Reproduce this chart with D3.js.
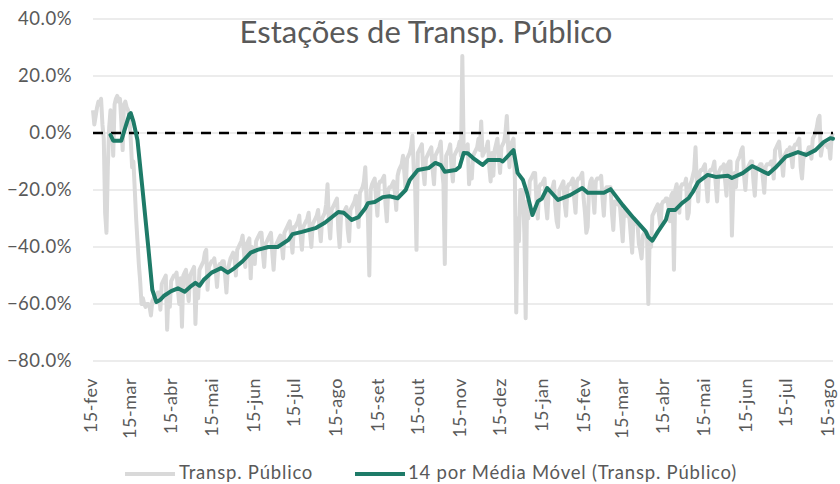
<!DOCTYPE html>
<html><head><meta charset="utf-8">
<script src="https://cdn.jsdelivr.net/npm/d3@7"></script>
<style>body{margin:0;background:#fff}svg{display:block}</style>
</head><body>
<svg id="chart" width="840" height="484"></svg>
<script>
// ---------- DATA ----------
const title = "Estações de Transp. Público";
const seriesName = "Transp. Público";
const maName = "14 por Média Móvel (Transp. Público)";
const firstDay = "2020-02-15";   // first daily value (Saturday)
const lastDay = "2021-08-17";
// daily values, % change vs baseline; one row per week (Sat..Fri)
const transp = [
  8, 3, 6, 9, 11, 10, 12,
  3, -2, -28, -35, -12, 2, 8,
  5, -8, 10, 12, 13, 11, 12,
  4, -6, 10, 11, 9, 8, 5,
  -2, -12, -10, -20, -30, -38, -46,
  -52, -60, -58, -60, -61, -60, -60,
  -61, -64, -59, -58, -57, -57, -56,
  -56, -62, -53, -52, -51, -50, -69,
  -56, -61, -52, -51, -50, -50, -49,
  -55, -60, -51, -68, -50, -49, -48,
  -54, -59, -50, -49, -48, -47, -67,
  -53, -58, -48, -47, -46, -45, -42,
  -41, -55, -47, -46, -45, -45, -44,
  -48, -54, -47, -46, -46, -45, -45,
  -50, -56, -48, -46, -44, -43, -42,
  -44, -50, -41, -40, -39, -38, -36,
  -42, -47, -39, -38, -37, -51, -40,
  -42, -46, -38, -37, -36, -35, -35,
  -42, -47, -39, -38, -37, -36, -35,
  -42, -48, -40, -39, -38, -37, -36,
  -39, -44, -35, -34, -33, -32, -31,
  -37, -42, -33, -33, -32, -31, -29,
  -36, -41, -33, -32, -31, -30, -28,
  -35, -40, -32, -31, -30, -29, -27,
  -33, -38, -30, -29, -28, -25, -18,
  -31, -37, -27, -26, -25, -24, -23,
  -34, -40, -29, -28, -28, -27, -26,
  -34, -38, -27, -26, -25, -24, -22,
  -28, -33, -21, -20, -19, -17, -12,
  -24, -30, -50, -20, -18, -17, -16,
  -23, -29, -18, -17, -17, -16, -15,
  -25, -31, -20, -19, -19, -18, -17,
  -21, -27, -15, -13, -12, -11, -8,
  -14, -20, -9, -8, -7, -5, -1,
  -13, -19, -41, -7, -6, -5, -4,
  -13, -18, -9, -8, -7, -6, -5,
  -13, -18, -8, -7, -6, -5, -3,
  -13, -18, -46, -8, -7, -6, -4,
  -12, -17, -8, -7, -6, -5, -3,
  -8, 27, -6, -5, -5, -4, -18,
  -12, -16, -8, -7, -6, -5, -2,
  -6, 4, -8, -7, -6, -5, -3,
  -12, -17, -7, -15, -6, -4, -2,
  -8, -14, -5, -4, -3, 0, 6,
  -5, -12, -4, -3, -2, -16, -63,
  -30, -38, -20, -20, -21, -35, -65,
  -24, -30, -17, -16, -15, -14, -14,
  -24, -30, -19, -18, -18, -17, -16,
  -25, -30, -21, -20, -20, -19, -17,
  -26, -31, -33, -20, -19, -18, -17,
  -25, -29, -19, -18, -18, -17, -16,
  -23, -28, -17, -16, -16, -15, -14,
  -23, -28, -35, -33, -20, -17, -16,
  -22, -28, -17, -16, -16, -16, -15,
  -23, -29, -20, -19, -19, -19, -19,
  -28, -34, -24, -24, -25, -25, -26,
  -32, -38, -27, -28, -29, -29, -30,
  -36, -42, -30, -31, -32, -32, -39,
  -41, -44, -36, -35, -35, -35, -60,
  -36, -40, -29, -28, -27, -26, -25,
  -29, -33, -25, -24, -24, -23, -23,
  -26, -31, -22, -21, -48, -20, -18,
  -23, -28, -19, -18, -18, -18, -16,
  -30, -28, -18, -17, -15, -13, -5,
  -18, -24, -14, -13, -13, -12, -11,
  -18, -24, -14, -13, -13, -12, -10,
  -18, -24, -14, -13, -12, -12, -11,
  -17, -22, -11, -10, -10, -36, -20,
  -14, -19, -10, -9, -8, -6, -5,
  -15, -20, -13, -12, -11, -10, -10,
  -17, -22, -13, -12, -12, -11, -11,
  -16, -21, -12, -11, -11, -11, -10,
  -10, -16, -6, -5, -4, -3, -8,
  -10, -15, -8, -7, -6, -6, -5,
  -8, -12, -5, -4, -4, -3, -2,
  -12, -16, -9, -8, -7, -7, -5,
  -5, -9, -2, -1, 0, 2, 5,
  6, -8, -5, -4, -4, -4, -5,
  -4, -9, -1, 0
];
// 14-period moving average
const maDates = ["2020-02-28","2020-03-01","2020-03-07","2020-03-10","2020-03-13","2020-03-14","2020-03-16","2020-03-19","2020-03-23","2020-03-27","2020-03-30","2020-04-02","2020-04-05","2020-04-08","2020-04-13","2020-04-18","2020-04-23","2020-04-27","2020-05-01","2020-05-04","2020-05-07","2020-05-13","2020-05-20","2020-05-25","2020-05-30","2020-06-05","2020-06-11","2020-06-16","2020-06-24","2020-07-01","2020-07-09","2020-07-12","2020-07-19","2020-07-29","2020-08-05","2020-08-15","2020-08-19","2020-08-25","2020-08-30","2020-09-04","2020-09-06","2020-09-11","2020-09-17","2020-09-22","2020-09-28","2020-10-04","2020-10-07","2020-10-13","2020-10-21","2020-10-26","2020-10-30","2020-11-02","2020-11-10","2020-11-13","2020-11-16","2020-11-19","2020-11-23","2020-11-30","2020-12-04","2020-12-13","2020-12-15","2020-12-23","2020-12-26","2020-12-30","2021-01-02","2021-01-06","2021-01-10","2021-01-13","2021-01-17","2021-01-25","2021-02-03","2021-02-12","2021-02-16","2021-02-28","2021-03-05","2021-03-14","2021-03-22","2021-03-31","2021-04-02","2021-04-05","2021-04-09","2021-04-15","2021-04-17","2021-04-22","2021-04-27","2021-05-02","2021-05-05","2021-05-09","2021-05-16","2021-05-22","2021-05-31","2021-06-03","2021-06-11","2021-06-18","2021-06-24","2021-06-30","2021-07-05","2021-07-13","2021-07-18","2021-07-22","2021-07-28","2021-08-04","2021-08-10","2021-08-15","2021-08-17"];
const maValues = [-0.7,-2.7,-2.7,2,6.5,7,4,-2.5,-21,-40,-55,-59.3,-58.5,-57,-55.5,-54.5,-55.7,-54,-52.6,-53.6,-51.6,-49,-47.4,-49,-47.4,-45,-42,-41,-40,-40,-37.5,-35.5,-34.7,-33.4,-31.5,-27.7,-28,-30.5,-29.5,-26.4,-24.6,-24.2,-22.5,-22.2,-22.9,-20,-16.5,-13,-12.3,-10.5,-11.3,-13.6,-13,-11.9,-7,-7.1,-8.8,-11.2,-9.5,-9.5,-10,-6,-14,-16.5,-21,-28.8,-24,-23,-19.3,-23.5,-21.8,-19.3,-21,-21,-19.7,-25.3,-29.8,-34.5,-36.5,-37.8,-34.7,-30.5,-27,-27,-24.6,-22.8,-20.7,-17.2,-14.7,-15.4,-15,-15.8,-14.1,-11.6,-13,-14.4,-12.3,-8.3,-7.4,-6.7,-7.7,-6,-3.2,-1.8,-2];
const yTicks = [-80, -60, -40, -20, 0, 20, 40];
const monthAbbr = ["jan","fev","mar","abr","mai","jun","jul","ago","set","out","nov","dez"];
const firstTick = "2020-02-15", lastTick = "2021-08-15";

// ---------- CHART ----------
(function () {
const parse = d3.timeParse("%Y-%m-%d");
const start = parse(firstDay);
const daily = transp.map((v, i) => ({date: d3.timeDay.offset(start, i), value: v}));
const ma = maDates.map((d, i) => ({date: parse(d), value: maValues[i]}));

const FONT = "Lato, 'Open Sans', sans-serif";
const TXT = "#595959";
const FS = 18.5, LS = 0.5;
const pL = 93, pR = 833, pT = 19, pB = 361;
const x = d3.scaleTime().domain([start, parse(lastDay)]).range([pL, pR]);
const y = d3.scaleLinear().domain([-80, 40]).range([pB, pT]);

const svg = d3.select("#chart");

svg.append("g").selectAll("line").data(yTicks).join("line")
  .attr("x1", pL).attr("x2", pR)
  .attr("y1", d => y(d)).attr("y2", d => y(d))
  .attr("stroke", "#d9d9d9").attr("stroke-width", 1);

svg.append("g").selectAll("text").data(yTicks).join("text")
  .attr("x", 72).attr("y", d => y(d)).attr("dy", "0.35em")
  .attr("text-anchor", "end").attr("font-family", FONT).attr("font-size", FS)
  .attr("letter-spacing", LS)
  .attr("fill", TXT).text(d => d3.format(".1f")(d) + "%");

const tickDates = d3.timeMonth.range(d3.timeMonth.floor(parse(firstTick)), d3.timeMonth.offset(parse(lastTick), 1))
  .map(m => d3.timeDay.offset(m, 14));
const nT = tickDates.length;
svg.append("g").selectAll("text").data(tickDates).join("text")
  .attr("transform", (d, i) => `translate(${x(d) - (i === nT - 1 ? 4 : 0)},378) rotate(-90)`)
  .attr("dy", "0.2em").attr("text-anchor", "end")
  .attr("font-family", FONT).attr("font-size", 18).attr("letter-spacing", LS).attr("fill", TXT)
  .text(d => "15-" + monthAbbr[d.getMonth()]);

const line = d3.line().x(d => x(d.date)).y(d => y(d.value));
svg.append("path").datum(daily).attr("d", line)
  .attr("fill", "none").attr("stroke", "#d9d9d9").attr("stroke-width", 4)
  .attr("stroke-linejoin", "round");

svg.append("line").attr("x1", pL).attr("x2", pR)
  .attr("y1", y(0)).attr("y2", y(0))
  .attr("stroke", "#000").attr("stroke-width", 2.5).attr("stroke-dasharray", "10,8");

svg.append("path").datum(ma).attr("d", line)
  .attr("fill", "none").attr("stroke", "#1e7b68").attr("stroke-width", 4)
  .attr("stroke-linejoin", "round").attr("stroke-linecap", "round");

svg.append("text").attr("x", 426).attr("y", 43).attr("text-anchor", "middle")
  .attr("font-family", FONT).attr("font-size", 31).attr("fill", TXT).text(title);

const lg = svg.append("g");
lg.append("line").attr("x1", 125).attr("x2", 175).attr("y1", 474).attr("y2", 474)
  .attr("stroke", "#d9d9d9").attr("stroke-width", 4);
lg.append("text").attr("x", 179).attr("y", 479).attr("font-family", FONT).attr("font-size", FS)
  .attr("letter-spacing", 0.8).attr("fill", TXT).text(seriesName);
lg.append("line").attr("x1", 355).attr("x2", 405).attr("y1", 474).attr("y2", 474)
  .attr("stroke", "#1e7b68").attr("stroke-width", 4);
lg.append("text").attr("x", 408).attr("y", 479).attr("font-family", FONT).attr("font-size", FS)
  .attr("letter-spacing", 0.8).attr("fill", TXT).text(maName);
})();
</script>
</body></html>
